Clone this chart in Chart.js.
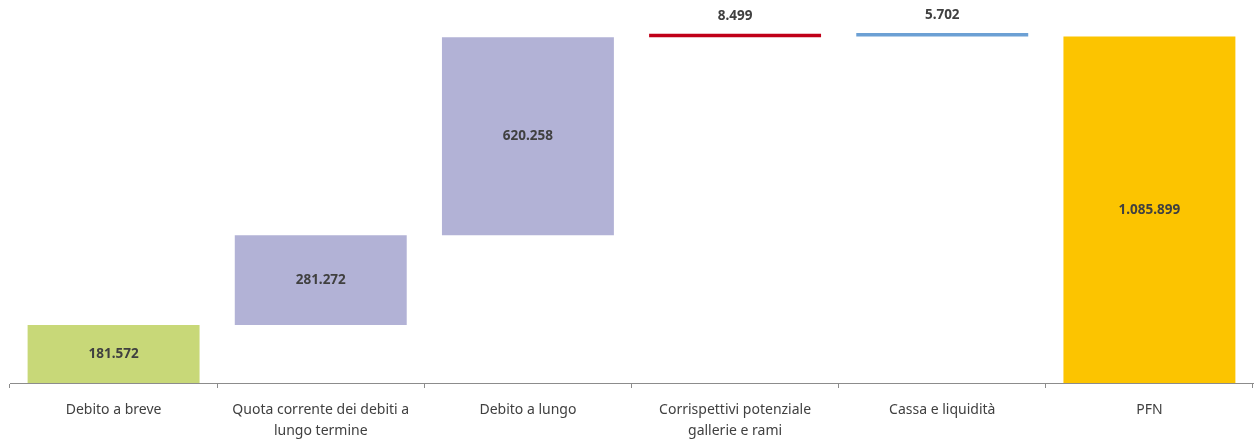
<!DOCTYPE html>
<html>
<head>
<meta charset="utf-8">
<script src="https://cdn.jsdelivr.net/npm/chart.js@4"></script>
<style>
  html, body { margin: 0; padding: 0; background: #fff; }
  #wrap { width: 1257px; height: 441px; position: relative; }
</style>
</head>
<body>
<div id="wrap"><canvas id="pfn"></canvas></div>
<script>
const categories = [
  'Debito a breve',
  ['Quota corrente dei debiti a', 'lungo termine'],
  'Debito a lungo',
  ['Corrispettivi potenziale', 'gallerie e rami'],
  'Cassa e liquidità',
  'PFN'
];
const values = [181572, 281272, 620258, 8499, -5702, 1085899];
const isTotal = [false, false, false, false, false, true];
const barColors = ['#C8D878', '#B2B2D6', '#B2B2D6', '#C00018', '#6CA0D4', '#FCC400'];

// floating [start, end] ranges for the waterfall steps
const ranges = [];
let running = 0;
values.forEach((v, i) => {
  if (isTotal[i]) {
    ranges.push([0, v]);
    running = v;
  } else {
    ranges.push([running, running + v]);
    running += v;
  }
});

function fmt(n) {
  return String(Math.abs(n)).replace(/\B(?=(\d{3})+(?!\d))/g, '.');
}

const labelPlugin = {
  id: 'barLabels',
  afterDatasetsDraw(chart) {
    const ctx = chart.ctx;
    const meta = chart.getDatasetMeta(0);
    ctx.save();
    ctx.font = 'bold 13.5px "Noto Sans"';
    ctx.fillStyle = '#404040';
    ctx.textAlign = 'center';
    ctx.textBaseline = 'middle';
    meta.data.forEach((bar, i) => {
      const top = Math.min(bar.y, bar.base);
      const h = Math.abs(bar.base - bar.y);
      const y = h < 20 ? top - 18 : top + h / 2;
      ctx.fillText(fmt(values[i]), bar.x, y);
    });
    ctx.restore();
  }
};

new Chart(document.getElementById('pfn'), {
  type: 'bar',
  data: {
    labels: categories,
    datasets: [{
      data: ranges,
      backgroundColor: barColors,
      borderWidth: 0,
      minBarLength: 3.5,
      categoryPercentage: 1,
      barPercentage: 0.83
    }]
  },
  options: {
    responsive: true,
    maintainAspectRatio: false,
    animation: false,
    layout: { padding: { left: 10, right: 4, top: 0, bottom: 0 } },
    plugins: { legend: { display: false }, tooltip: { enabled: false } },
    scales: {
      y: { display: false, min: 0, max: 1200000 },
      x: {
        afterFit(scale) { scale.height = 58; },
        border: { color: '#8C8C8C', width: 1 },
        grid: { drawOnChartArea: false, drawTicks: true, tickLength: 5, color: '#8C8C8C', offset: true },
        ticks: {
          color: '#404040',
          padding: 12,
          maxRotation: 0,
          autoSkip: false,
          font: { family: '"Noto Sans"', size: 14, lineHeight: 1.5 }
        }
      }
    }
  },
  plugins: [labelPlugin]
});
</script>
</body>
</html>
